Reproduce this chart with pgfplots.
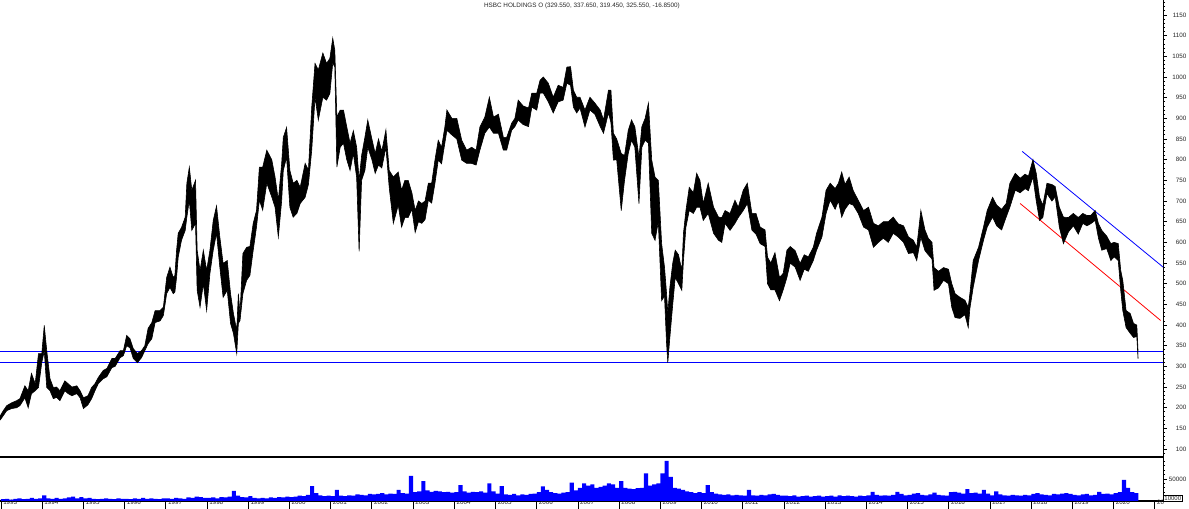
\documentclass[border=0pt]{standalone}
\usepackage{fontspec}
\setmainfont{Liberation Sans}
\usepackage{pgfplots}
\usepackage{pgfplotstable}
\pgfplotsset{compat=1.18}

\pgfplotstableread{
t lo hi
1992.98 170 180
1993.05 180 192
1993.14 193 205
1993.26 198 212
1993.38 200 217
1993.46 205 222
1993.58 224 253
1993.66 200 241
1993.74 234 283
1993.83 241 258
1993.91 249 331
1993.99 309 331
1994.05 338 399
1994.11 249 338
1994.19 241 270
1994.27 222 249
1994.35 225 250
1994.43 217 241
1994.55 241 265
1994.63 234 258
1994.72 229 250
1994.84 234 253
1994.92 224 241
1995.00 198 224
1995.11 207 229
1995.20 222 249
1995.28 241 258
1995.36 258 273
1995.48 270 290
1995.57 275 295
1995.69 297 319
1995.77 300 319
1995.89 321 338
1995.97 326 338
1996.05 350 375
1996.13 345 367
1996.21 319 343
1996.31 309 331
1996.41 321 338
1996.49 338 350
1996.57 355 392
1996.66 367 406
1996.74 406 435
1996.86 410 435
1996.94 423 443
1997.02 476 515
1997.10 491 540
1997.18 476 515
1997.22 480 520
1997.26 515 580
1997.30 564 622
1997.38 605 636
1997.47 629 661
1997.51 661 743
1997.57 702 782
1997.63 629 726
1997.72 646 750
1997.76 484 581
1997.83 443 532
1997.91 500 581
1997.99 435 532
1998.07 525 581
1998.15 581 653
1998.23 622 688
1998.31 540 613
1998.39 467 549
1998.49 484 556
1998.57 404 476
1998.64 380 428
1998.72 331 387
1998.76 404 476
1998.80 411 428
1998.87 476 573
1998.96 508 588
1999.04 520 590
1999.12 581 646
1999.20 637 677
1999.27 702 782
1999.35 678 782
1999.45 743 823
1999.57 710 800
1999.65 685 758
1999.73 613 702
1999.81 700 790
1999.85 774 854
1999.93 806 878
2000.01 685 774
2000.09 661 743
2000.18 670 750
2000.26 694 733
2000.38 709 791
2000.46 740 775
2000.54 823 927
2000.62 951 1033
2000.70 896 1017
2000.81 951 1058
2000.90 944 1033
2000.98 960 1045
2001.05 1034 1094
2001.10 1024 1065
2001.15 782 903
2001.23 830 920
2001.31 840 920
2001.39 800 880
2001.47 774 840
2001.55 815 870
2001.63 757 830
2001.69 578 750
2001.75 750 810
2001.83 774 854
2001.90 830 896
2002.00 800 850
2002.08 767 815
2002.16 787 850
2002.24 780 820
2002.34 830 872
2002.42 733 774
2002.52 646 758
2002.64 690 770
2002.72 637 726
2002.80 660 750
2002.88 660 750
2002.97 680 720
2003.05 624 677
2003.13 650 700
2003.21 646 694
2003.29 655 700
2003.37 702 743
2003.45 695 743
2003.53 743 799
2003.61 799 847
2003.69 790 830
2003.77 840 879
2003.82 871 920
2003.94 860 900
2004.06 850 900
2004.18 799 847
2004.30 791 823
2004.42 791 830
2004.53 787 823
2004.62 823 879
2004.74 864 903
2004.85 879 951
2004.95 864 903
2005.07 864 910
2005.19 823 854
2005.27 823 854
2005.39 871 888
2005.47 880 900
2005.55 896 944
2005.67 885 930
2005.80 880 925
2005.88 927 961
2006.00 920 961
2006.08 961 992
2006.16 961 1000
2006.28 940 985
2006.40 913 951
2006.52 940 980
2006.64 944 975
2006.73 985 1024
2006.82 980 1025
2006.89 927 968
2006.97 913 951
2007.05 925 951
2007.17 879 920
2007.29 920 951
2007.41 910 937
2007.54 880 920
2007.62 864 896
2007.74 913 968
2007.80 890 968
2007.86 799 864
2007.94 800 850
2008.05 677 815
2008.13 750 810
2008.22 815 871
2008.30 847 896
2008.38 830 880
2008.48 694 806
2008.55 830 880
2008.63 847 900
2008.71 840 937
2008.79 622 799
2008.87 605 758
2008.95 650 750
2009.03 459 597
2009.10 470 540
2009.15 355 476
2009.18 309 428
2009.23 370 491
2009.30 450 550
2009.36 515 581
2009.44 500 570
2009.52 484 532
2009.56 556 622
2009.62 637 677
2009.70 677 733
2009.80 670 720
2009.88 685 767
2009.96 685 750
2010.04 653 694
2010.16 670 743
2010.29 622 685
2010.41 605 661
2010.49 600 660
2010.57 646 677
2010.69 629 670
2010.81 646 702
2010.89 660 685
2011.01 677 726
2011.11 694 743
2011.22 630 670
2011.32 620 670
2011.42 597 637
2011.54 590 630
2011.60 500 564
2011.68 485 550
2011.78 485 575
2011.89 459 515
2011.98 485 525
2012.07 515 581
2012.15 550 590
2012.27 540 580
2012.39 508 549
2012.49 535 570
2012.59 530 565
2012.71 556 588
2012.79 581 622
2012.92 613 661
2013.02 670 726
2013.12 702 743
2013.24 680 730
2013.32 700 743
2013.40 661 770
2013.48 680 740
2013.58 694 758
2013.68 690 725
2013.80 670 702
2013.93 637 677
2014.05 630 685
2014.17 588 646
2014.29 600 640
2014.41 610 650
2014.53 600 650
2014.65 622 661
2014.77 613 645
2014.90 600 640
2015.02 573 613
2015.14 575 605
2015.22 556 588
2015.32 612 677
2015.42 580 630
2015.50 570 610
2015.59 560 600
2015.64 484 539
2015.75 490 530
2015.87 508 539
2015.99 500 535
2016.07 443 500
2016.15 418 476
2016.27 416 467
2016.39 425 460
2016.47 394 443
2016.51 440 476
2016.59 491 556
2016.72 556 588
2016.84 605 637
2016.93 637 677
2017.06 661 709
2017.16 640 690
2017.28 630 680
2017.39 661 694
2017.48 685 743
2017.61 726 767
2017.73 720 755
2017.85 730 765
2017.93 725 760
2018.04 758 800
2018.12 700 767
2018.20 653 709
2018.28 660 690
2018.38 718 743
2018.50 700 740
2018.58 710 735
2018.68 637 685
2018.78 597 661
2018.90 625 660
2019.02 640 670
2019.14 620 660
2019.25 646 670
2019.35 640 665
2019.44 645 665
2019.55 653 677
2019.63 610 645
2019.71 581 629
2019.83 585 615
2019.93 556 597
2020.01 565 600
2020.11 556 597
2020.17 484 532
2020.22 435 508
2020.30 394 435
2020.40 380 428
2020.48 370 404
2020.56 372 400
2020.59 319 338
}\price

\definecolor{lbl}{gray}{0.15}

\begin{document}
\begin{tikzpicture}
\path[use as bounding box] (0pt,0pt) rectangle (891.75pt,381.75pt);

\begin{axis}[
  at={(0pt,39pt)}, anchor=south west, scale only axis,
  width=872.5pt, height=342.75pt,
  xmin=1992.976, xmax=2021.204, ymin=80.8, ymax=1186.3,
  axis x line=bottom, axis y line=right,
  axis line style={-, line width=0.9pt},
  xtick=\empty,
  ytick={100,150,...,1150},
  minor ytick={90,100,...,1180},
  tick align=outside,
  major tick length=2.5pt, minor tick length=1.3pt,
  tick style={black, line width=0.6pt},
  tick label style={font=\fontsize{4.7}{5}\selectfont, text=lbl},
  yticklabel style={anchor=east, inner sep=0pt, xshift=15pt},
  /pgf/number format/1000 sep={},
  /pgf/number format/assume math mode=true,
]
\addplot[blue, line width=0.9pt] coordinates {(1992.976,336) (2021.204,336)};
\addplot[blue, line width=0.9pt] coordinates {(1992.976,309) (2021.204,309)};
\addplot[blue, line width=0.6pt] coordinates {(2017.78,820) (2021.20,540)};
\addplot[red, line width=0.6pt] coordinates {(2017.73,694) (2021.14,411)};
\addplot[stack plots=y, draw=none, forget plot] table[x=t, y=lo] {\price};
\addplot[stack plots=y, fill=black, draw=none, forget plot] table[x=t, y expr=\thisrow{hi}-\thisrow{lo}] {\price} \closedcycle;
\addplot[black, line width=0.45pt] table[x=t, y=hi] {\price};
\addplot[black, line width=0.45pt] table[x=t, y=lo] {\price};
\end{axis}

\begin{axis}[
  at={(0pt,6pt)}, anchor=south west, scale only axis,
  width=872.5pt, height=33pt,
  xmin=1992.976, xmax=2021.204, ymin=0, ymax=100000,
  axis x line=bottom, axis y line=right,
  axis line style={-, line width=0.9pt},
  xtick={1993,1994,...,2021},
  xticklabels={1993,1994,1995,1996,1997,1998,1999,2000,2001,2002,2003,2004,2005,2006,2007,2008,2009,2010,2011,2012,2013,2014,2015,2016,2017,2018,2019,2020,20},
  ytick={50000},
  minor ytick={10000,20000,30000,40000,60000,70000,80000,90000},
  scaled y ticks=false,
  tick align=outside,
  major tick length=2.5pt, minor tick length=1.3pt,
  tick style={black, line width=0.6pt},
  xtick style={/pgfplots/major tick length=6pt},
  tick label style={font=\fontsize{4.7}{5}\selectfont, text=lbl},
  yticklabel style={anchor=east, inner sep=0pt, xshift=15pt},
  xticklabel style={anchor=north west, inner sep=0pt, xshift=1.5pt, yshift=3pt},
  /pgf/number format/1000 sep={},
  /pgf/number format/assume math mode=true,
  clip=false,
]
\addplot[const plot, fill=blue, draw=none] coordinates {
(1993.0,4000)(1993.1,5000)(1993.2,3000)(1993.3,5000)(1993.4,6000)(1993.5,4000)(1993.6,5000)(1993.7,7000)(1993.8,5000)(1993.9,6000)
(1994.0,13000)(1994.1,6000)(1994.2,5000)(1994.3,7000)(1994.4,5000)(1994.5,6000)(1994.6,8000)(1994.7,10000)(1994.8,6000)(1994.9,9000)
(1995.0,6000)(1995.1,7000)(1995.2,5000)(1995.3,4000)(1995.4,5000)(1995.5,6000)(1995.6,5000)(1995.7,4000)(1995.8,6000)(1995.9,5000)
(1996.0,5000)(1996.1,4000)(1996.2,6000)(1996.3,5000)(1996.4,7000)(1996.5,5000)(1996.6,6000)(1996.7,5000)(1996.8,4000)(1996.9,6000)
(1997.0,6000)(1997.1,5000)(1997.2,7000)(1997.3,6000)(1997.4,5000)(1997.5,8000)(1997.6,7000)(1997.7,10000)(1997.8,9000)(1997.9,7000)
(1998.0,7000)(1998.1,8000)(1998.2,6000)(1998.3,9000)(1998.4,8000)(1998.5,10000)(1998.6,23000)(1998.7,12000)(1998.8,9000)(1998.9,8000)
(1999.0,11000)(1999.1,7000)(1999.2,6000)(1999.3,7000)(1999.4,6000)(1999.5,8000)(1999.6,7000)(1999.7,9000)(1999.8,8000)(1999.9,10000)
(2000.0,9000)(2000.1,10000)(2000.2,12000)(2000.3,11000)(2000.4,14000)(2000.5,34000)(2000.6,18000)(2000.7,13000)(2000.8,11000)(2000.9,12000)
(2001.0,11000)(2001.1,25000)(2001.2,12000)(2001.3,11000)(2001.4,13000)(2001.5,12000)(2001.6,15000)(2001.7,14000)(2001.8,13000)(2001.9,16000)
(2002.0,15000)(2002.1,16000)(2002.2,18000)(2002.3,15000)(2002.4,17000)(2002.5,16000)(2002.6,25000)(2002.7,18000)(2002.8,17000)(2002.9,57000)
(2003.0,20000)(2003.1,22000)(2003.2,45000)(2003.3,24000)(2003.4,21000)(2003.5,23000)(2003.6,22000)(2003.7,20000)(2003.8,21000)(2003.9,19000)
(2004.0,20000)(2004.1,36000)(2004.2,22000)(2004.3,19000)(2004.4,21000)(2004.5,20000)(2004.6,22000)(2004.7,19000)(2004.8,40000)(2004.9,22000)
(2005.0,17000)(2005.1,34000)(2005.2,15000)(2005.3,14000)(2005.4,16000)(2005.5,13000)(2005.6,15000)(2005.7,14000)(2005.8,16000)(2005.9,17000)
(2006.0,20000)(2006.1,33000)(2006.2,25000)(2006.3,20000)(2006.4,18000)(2006.5,17000)(2006.6,19000)(2006.7,20000)(2006.8,42000)(2006.9,24000)
(2007.0,30000)(2007.1,40000)(2007.2,35000)(2007.3,38000)(2007.4,30000)(2007.5,32000)(2007.6,35000)(2007.7,40000)(2007.8,38000)(2007.9,30000)
(2008.0,45000)(2008.1,30000)(2008.2,28000)(2008.3,27000)(2008.4,29000)(2008.5,30000)(2008.6,63000)(2008.7,35000)(2008.8,38000)(2008.9,40000)
(2009.0,63000)(2009.1,91000)(2009.2,55000)(2009.3,30000)(2009.4,28000)(2009.5,25000)(2009.6,22000)(2009.7,20000)(2009.8,18000)(2009.9,20000)
(2010.0,18000)(2010.1,36000)(2010.2,20000)(2010.3,17000)(2010.4,15000)(2010.5,14000)(2010.6,15000)(2010.7,13000)(2010.8,14000)(2010.9,13000)
(2011.0,12000)(2011.1,25000)(2011.2,13000)(2011.3,12000)(2011.4,14000)(2011.5,13000)(2011.6,15000)(2011.7,16000)(2011.8,14000)(2011.9,12000)
(2012.0,12000)(2012.1,11000)(2012.2,13000)(2012.3,10000)(2012.4,11000)(2012.5,12000)(2012.6,10000)(2012.7,11000)(2012.8,12000)(2012.9,10000)
(2013.0,11000)(2013.1,12000)(2013.2,10000)(2013.3,13000)(2013.4,11000)(2013.5,12000)(2013.6,11000)(2013.7,10000)(2013.8,12000)(2013.9,11000)
(2014.0,13000)(2014.1,21000)(2014.2,14000)(2014.3,12000)(2014.4,13000)(2014.5,12000)(2014.6,14000)(2014.7,21000)(2014.8,16000)(2014.9,13000)
(2015.0,14000)(2015.1,17000)(2015.2,18000)(2015.3,14000)(2015.4,13000)(2015.5,15000)(2015.6,19000)(2015.7,14000)(2015.8,13000)(2015.9,12000)
(2016.0,20000)(2016.1,21000)(2016.2,19000)(2016.3,17000)(2016.4,27000)(2016.5,18000)(2016.6,19000)(2016.7,17000)(2016.8,25000)(2016.9,17000)
(2017.0,13000)(2017.1,22000)(2017.2,15000)(2017.3,13000)(2017.4,12000)(2017.5,14000)(2017.6,13000)(2017.7,12000)(2017.8,14000)(2017.9,13000)
(2018.0,16000)(2018.1,18000)(2018.2,15000)(2018.3,14000)(2018.4,13000)(2018.5,16000)(2018.6,15000)(2018.7,17000)(2018.8,18000)(2018.9,16000)
(2019.0,14000)(2019.1,13000)(2019.2,15000)(2019.3,16000)(2019.4,13000)(2019.5,14000)(2019.6,21000)(2019.7,16000)(2019.8,17000)(2019.9,15000)
(2020.0,18000)(2020.1,20000)(2020.2,48000)(2020.3,30000)(2020.4,20000)(2020.5,18000)(2020.6,18000)
} \closedcycle;
\node[draw=black, line width=0.5pt, fill=white, inner sep=0.6pt, anchor=north west,
      font=\fontsize{4.5}{5}\selectfont, text=lbl] at (axis cs:2021.204,13000) {10000};
\end{axis}

\node[font=\fontsize{4.75}{5}\selectfont, text=lbl] at (436.5pt,377.5pt) {HSBC HOLDINGS O (329.550, 337.650, 319.450, 325.550, -16.8500)};
\end{tikzpicture}
\end{document}
